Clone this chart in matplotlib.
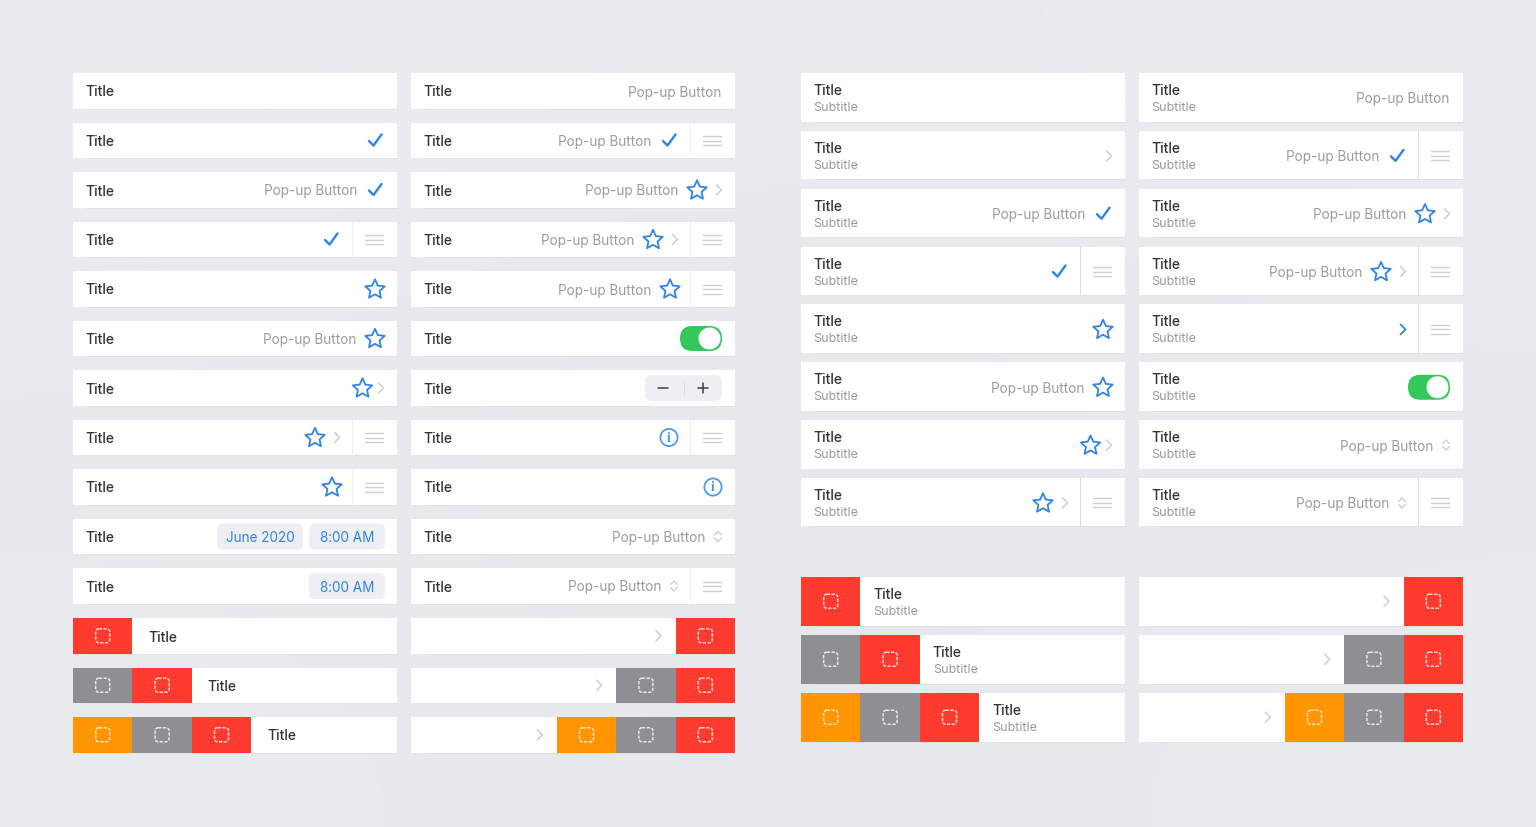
import numpy as np
import matplotlib
matplotlib.use("Agg")
import matplotlib.pyplot as plt
from matplotlib.patches import Rectangle, FancyBboxPatch, Circle, PathPatch
from matplotlib.path import Path
from matplotlib.transforms import Affine2D

plt.rcParams['font.family'] = ['Inter', 'DejaVu Sans']

# row contents, every list runs from left to right
col1_items = [
    [],
    ['check'],
    ['popup', 'check'],
    ['check', 'drag'],
    ['star'],
    ['popup', 'star'],
    ['star', 'chevron'],
    ['star', 'chevron', 'drag'],
    ['star', 'drag'],
    ['date', 'time'],
    ['time'],
]
col2_items = [
    ['popup'],
    ['popup', 'check', 'drag'],
    ['popup', 'star', 'chevron'],
    ['popup', 'star', 'chevron', 'drag'],
    ['popup', 'star', 'drag'],
    ['toggle'],
    ['stepper'],
    ['info', 'drag'],
    ['info'],
    ['popup', 'updown'],
    ['popup', 'updown', 'drag'],
]
col3_items = [
    [],
    ['chevron'],
    ['popup', 'check'],
    ['check', 'drag'],
    ['star'],
    ['popup', 'star'],
    ['star', 'chevron'],
    ['star', 'chevron', 'drag'],
]
col4_items = [
    ['popup'],
    ['popup', 'check', 'drag'],
    ['popup', 'star', 'chevron'],
    ['popup', 'star', 'chevron', 'drag'],
    ['bluechevron', 'drag'],
    ['toggle'],
    ['popup', 'updown'],
    ['popup', 'updown', 'drag'],
]
# swipe action tiles, outermost first
action_sets = [
    ['red'],
    ['gray', 'red'],
    ['orange', 'gray', 'red'],
]

title_text = 'Title'
subtitle_text = 'Subtitle'
popup_text = 'Pop-up Button'
date_text = 'June 2020'
time_text = '8:00 AM'

BG = '#e8e9ed'
BLUE = '#2f84e6'
INFO = '#4f9be8'
TITLE = '#333336'
MUTED = '#9c9ca1'
SUB = '#98989d'
LINE = '#e0e1e5'
ICON = '#cfcfd4'
PILL = '#eeeff2'
GREEN = '#34c759'
TILES = {'red': '#ff3b30', 'gray': '#8e8e93', 'orange': '#ff9500'}

FS_TITLE = 10.0
FS_SUB = 9.0
FS_POP = 9.75
TILE_W = 59.4

fig = plt.figure(figsize=(15.36, 8.27), dpi=100)
ax = fig.add_axes([0, 0, 1, 1])
ax.axis('off')
fig.patch.set_facecolor(BG)

# backdrop is a touch lighter towards the corners
shade = np.array([[236, 233, 235], [232, 230, 232], [234, 231, 234]]) / 255.0
ax.imshow(np.dstack([shade, shade + 0.004, shade + 0.02]), extent=(0, 1536, 827, 0),
          aspect='auto', interpolation='bicubic', zorder=0)
ax.set_xlim(0, 1536)
ax.set_ylim(827, 0)


def line(xs, ys, color, lw=1.0):
    ax.plot(xs, ys, color=color, lw=lw * 0.72, solid_capstyle='round',
            solid_joinstyle='round', zorder=3)


def rounded(x, y, w, h, r, **kw):
    ax.add_patch(FancyBboxPatch((x + r, y + r), w - 2 * r, h - 2 * r,
                                boxstyle='round,pad=%f,rounding_size=%f' % (r, r), **kw))


def draw_check(x, cy):
    line([x - 6, x - 1.5, x + 6.5], [cy + 0.5, cy + 5, cy - 6], BLUE, 2.4)


def draw_star(x, cy):
    star = Path.unit_regular_star(5, innerCircle=0.47)
    tr = Affine2D().scale(10.2, -10.2).translate(x, cy + 0.5)
    ax.add_patch(PathPatch(star.transformed(tr), fc='none', ec=BLUE, lw=1.8 * 0.72,
                           joinstyle='round', zorder=3))


def draw_chevron(x, cy, color=ICON, lw=1.6):
    line([x - 2.5, x + 2.5, x - 2.5], [cy - 5, cy, cy + 5], color, lw)


def draw_updown(x, cy):
    line([x - 3.5, x, x + 3.5], [cy - 1.5, cy - 5, cy - 1.5], ICON, 1.4)
    line([x - 3.5, x, x + 3.5], [cy + 1.5, cy + 5, cy + 1.5], ICON, 1.4)


def draw_info(x, cy):
    ax.add_patch(Circle((x, cy), 8.6, fc='none', ec=INFO, lw=1.8 * 0.72, zorder=3))
    ax.text(x, cy + 0.5, 'i', color=INFO, fontsize=10, ha='center', va='center',
            family=['Liberation Serif'], fontweight='bold', zorder=3)


def draw_pill(x0, x1, cy, text):
    rounded(x0, cy - 13, x1 - x0, 26, 6, fc=PILL, ec='none', zorder=2)
    ax.text((x0 + x1) / 2, cy, text, color=BLUE, fontsize=FS_POP, ha='center',
            va='center_baseline', zorder=3)


def draw_toggle(right, cy):
    x0 = right - 13 - 42
    rounded(x0, cy - 12.5, 42, 25, 12.5, fc=GREEN, ec='none', zorder=2)
    ax.add_patch(Circle((x0 + 29.5, cy), 11, fc='white', ec='none', zorder=3))


def draw_stepper(right, cy):
    x0 = right - 13 - 77
    rounded(x0, cy - 13, 77, 26, 7, fc=PILL, ec='none', zorder=2)
    line([x0 + 13, x0 + 23], [cy, cy], '#3a3a3c', 1.5)
    line([x0 + 38.5, x0 + 38.5], [cy - 7, cy + 7], '#dcdde1', 1.0)
    line([x0 + 53, x0 + 63], [cy, cy], '#3a3a3c', 1.5)
    line([x0 + 58, x0 + 58], [cy - 5, cy + 5], '#3a3a3c', 1.5)


def draw_drag(x, cy):
    for dy in (-4.5, 0, 4.5):
        line([x - 9, x + 9], [cy + dy, cy + dy], ICON, 1.4)


# distance of the item nearest the right edge
first_gap = {'check': 22, 'star': 22, 'info': 22, 'chevron': 16, 'bluechevron': 15,
             'popup': 14, 'updown': 17}
# same, when a drag handle sits to the right
first_gap_drag = {'check': 21, 'star': 20, 'info': 21, 'chevron': 15, 'bluechevron': 15,
                  'updown': 16}
# distance from an item to the one on its left
left_gap = {'check': 18, 'star': 19, 'updown': 13, 'chevron': 22}


def draw_items(items, right, cy, top, height, divider):
    edge = right
    gaps = first_gap
    if 'drag' in items:
        edge = right - 45
        gaps = first_gap_drag
        ax.plot([edge, edge], [top, top + height], color=divider, lw=0.72, zorder=3)
        draw_drag(right - 23, cy)
    rest = [i for i in items if i != 'drag']
    x = None
    prev = None
    for item in reversed(rest):
        if item == 'toggle':
            draw_toggle(right, cy)
            continue
        if item == 'stepper':
            draw_stepper(right, cy)
            continue
        if item == 'time':
            draw_pill(right - 88, right - 12, cy, time_text)
            continue
        if item == 'date':
            draw_pill(right - 180, right - 94, cy, date_text)
            continue
        if x is None:
            x = edge - gaps[item]
        elif rest == ['star', 'chevron'] and 'drag' not in items:
            x = x - 18.5
        else:
            x = x - left_gap[prev]
        if item == 'check':
            draw_check(x, cy)
        elif item == 'star':
            draw_star(x, cy)
        elif item == 'chevron':
            draw_chevron(x, cy)
        elif item == 'bluechevron':
            draw_chevron(x, cy, BLUE, 1.8)
        elif item == 'info':
            draw_info(x, cy)
        elif item == 'updown':
            draw_updown(x, cy)
        elif item == 'popup':
            ax.text(x, cy, popup_text, color=MUTED, fontsize=FS_POP, ha='right',
                    va='center_baseline', zorder=3)
        prev = item


def draw_row(left, top, width, height):
    ax.add_patch(Rectangle((left, top), width, height, fc='white', ec='none', zorder=1))
    line([left + 13, left + width], [top + height, top + height], LINE, 1.0)


def draw_titles(x, top, height):
    if height > 40:
        ax.text(x - 1, top + 16.5, title_text, color=TITLE, fontsize=FS_TITLE, fontweight='medium',
                va='center_baseline', zorder=3)
        ax.text(x - 1, top + 33.5, subtitle_text, color=SUB, fontsize=FS_SUB,
                va='center_baseline', zorder=3)
    else:
        ax.text(x - 1, top + 18, title_text, color=TITLE, fontsize=FS_TITLE, fontweight='medium',
                va='center_baseline', zorder=3)


def draw_tile(x, top, height, name):
    ax.add_patch(Rectangle((x, top), TILE_W, height, fc=TILES[name], ec='none', zorder=2))
    cx = x + TILE_W / 2
    cy = top + height / 2
    rounded(cx - 7, cy - 7, 14, 14, 3, fc='none', ec='white', alpha=0.8, lw=1.5 * 0.72,
            ls=(0, (2.2, 1.0)), zorder=3)


def draw_actions(left, right, top, height, step, gap):
    for k, tiles in enumerate(action_sets):
        y = top + k * step
        draw_row(left, y, right - left, height)
        for j, name in enumerate(tiles):
            draw_tile(left + j * TILE_W, y, height, name)
        draw_titles(left + len(tiles) * TILE_W + gap, y, height)


def draw_actions_right(left, right, top, height, step):
    for k, tiles in enumerate(action_sets):
        y = top + k * step
        draw_row(left, y, right - left, height)
        n = len(tiles)
        for j, name in enumerate(tiles):
            draw_tile(right - (n - j) * TILE_W, y, height, name)
        draw_chevron(right - n * TILE_W - 17, y + height / 2)


# short rows, left block
for col_left, items_list in ((73, col1_items), (411, col2_items)):
    for i, items in enumerate(items_list):
        top = 73 + i * 49.5
        draw_row(col_left, top, 324, 35.5)
        draw_titles(col_left + 13, top, 35.5)
        draw_items(items, col_left + 324, top + 18, top, 35.5, '#eeeff1')

# tall rows, right block
for col_left, items_list in ((801, col3_items), (1139, col4_items)):
    for i, items in enumerate(items_list):
        top = 73 + i * 57.85
        draw_row(col_left, top, 324, 48.5)
        draw_titles(col_left + 13, top, 48.5)
        draw_items(items, col_left + 324, top + 25, top, 48.5, '#dddee2')

# swipe action rows
draw_actions(73, 397, 618, 35.5, 49.5, 17)
draw_actions_right(411, 735, 618, 35.5, 49.5)
draw_actions(801, 1125, 577, 48.5, 58, 14)
draw_actions_right(1139, 1463, 577, 48.5, 58)

fig.savefig('out.png', dpi=100, facecolor=BG)
